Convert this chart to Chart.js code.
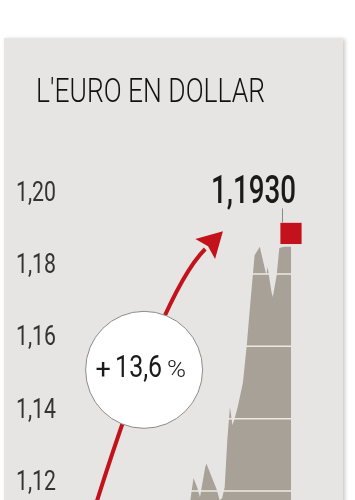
<!DOCTYPE html>
<html>
<head>
<meta charset="utf-8">
<script src="https://cdn.jsdelivr.net/npm/chart.js@4.4.0/dist/chart.umd.min.js"></script>
<style>
  html, body { margin: 0; padding: 0; width: 355px; height: 500px; overflow: hidden; background: #fff; }
  #panel { position: absolute; left: 4px; top: 38px; width: 339px; height: 480px; background: #e6e5e4; box-shadow: 2px 1px 4px rgba(0,0,0,0.22); }
  #myChart { position: absolute; left: 0; top: 0; }
</style>
</head>
<body>
<div id="panel"></div>
<canvas id="myChart" width="355" height="800"></canvas>
<script>
let title = "L'EURO EN DOLLAR";
let days = [0, 8, 16, 24, 32, 40, 48, 56, 64, 72, 80, 86, 92, 95, 98, 100, 104, 105, 109, 113, 115, 117, 119, 121, 123, 125, 127, 129, 133, 136, 138, 142, 146, 148, 151, 152, 155, 156, 159, 161, 165, 170];
let rates = [1.046, 1.062, 1.072, 1.062, 1.068, 1.058, 1.065, 1.078, 1.070, 1.084, 1.092, 1.105, 1.116, 1.1236, 1.1208, 1.1183, 1.1266, 1.1275, 1.1239, 1.1203, 1.1175, 1.1180, 1.1211, 1.1341, 1.1432, 1.1382, 1.1405, 1.1432, 1.1499, 1.1604, 1.1690, 1.1852, 1.1875, 1.1844, 1.1797, 1.1819, 1.1750, 1.1736, 1.1797, 1.1872, 1.1875, 1.1875];
let yTicks = [1.12, 1.14, 1.16, 1.18, 1.20];
let lastLabel = '1,1930';
let markerRate = 1.1912;
let changeLabel = '13,6';

// annotation anchors, in chart units (day, rate)
let arrowFrom = { x: 20, y: 1.1164 };
let arrowVia = { x: 71.5, y: 1.1753 };
let arrowTo = { x: 104, y: 1.1869 };
let bubble = { x: 57, y: 1.1535 };

const RED = '#c4121c';
const FONT = 'Roboto, "Noto Sans", sans-serif';

function squeezed(ctx, str, x, y, font, width, align) {
  ctx.save();
  ctx.font = font;
  let sx = width / ctx.measureText(str).width;
  ctx.translate(x, y);
  ctx.scale(sx, 1);
  ctx.textAlign = align || 'left';
  ctx.fillText(str, 0, 0);
  ctx.restore();
}

const decorations = {
  id: 'decorations',
  afterDatasetsDraw(chart) {
    let ctx = chart.ctx;
    let xs = chart.scales.x, ys = chart.scales.y;
    let area = chart.chartArea;

    // grid lines only show on top of the area
    ctx.save();
    ctx.globalCompositeOperation = 'source-atop';
    ctx.strokeStyle = '#eeeae2';
    ctx.lineWidth = 1.5;
    yTicks.forEach(v => {
      let y = ys.getPixelForValue(v);
      ctx.beginPath();
      ctx.moveTo(area.left, y);
      ctx.lineTo(area.right, y);
      ctx.stroke();
    });
    ctx.restore();

    // y labels
    ctx.save();
    ctx.fillStyle = '#333';
    ctx.font = '400 28px ' + FONT;
    let sx = 40 / ctx.measureText('1,20').width;
    yTicks.forEach(v => {
      let y = ys.getPixelForValue(v) - 1;
      ctx.save();
      ctx.translate(56, y);
      ctx.scale(sx, 1);
      ctx.textAlign = 'right';
      ctx.fillText(v.toFixed(2).replace('.', ','), 0, 0);
      ctx.restore();
    });
    ctx.restore();

    // title
    ctx.fillStyle = '#111';
    squeezed(ctx, title, 36, 102, '300 34px ' + FONT, 229);

    // arrow
    let p0 = { x: xs.getPixelForValue(arrowFrom.x), y: ys.getPixelForValue(arrowFrom.y) };
    let c = { x: xs.getPixelForValue(arrowVia.x), y: ys.getPixelForValue(arrowVia.y) };
    let p2 = { x: xs.getPixelForValue(arrowTo.x), y: ys.getPixelForValue(arrowTo.y) };
    ctx.save();
    ctx.strokeStyle = RED;
    ctx.fillStyle = RED;
    ctx.lineWidth = 4;
    ctx.beginPath();
    ctx.moveTo(p0.x, p0.y);
    ctx.quadraticCurveTo(c.x, c.y, p2.x, p2.y);
    ctx.stroke();
    let dx = p2.x - c.x, dy = p2.y - c.y, len = Math.hypot(dx, dy);
    dx /= len; dy /= len;
    let tip = { x: p2.x + dx * 25, y: p2.y + dy * 25 };
    ctx.beginPath();
    ctx.moveTo(tip.x, tip.y);
    ctx.lineTo(p2.x - dy * 14, p2.y + dx * 14);
    ctx.lineTo(p2.x + dx * 4, p2.y + dy * 4);
    ctx.lineTo(p2.x + dy * 14, p2.y - dx * 14);
    ctx.closePath();
    ctx.fill();
    ctx.restore();

    // bubble
    let bx = xs.getPixelForValue(bubble.x), by = ys.getPixelForValue(bubble.y);
    ctx.save();
    ctx.beginPath();
    ctx.arc(bx, by, 58.5, 0, Math.PI * 2);
    ctx.fillStyle = '#fff';
    ctx.fill();
    ctx.strokeStyle = '#8a8a8a';
    ctx.lineWidth = 1;
    ctx.stroke();
    ctx.fillStyle = '#1a1a1a';
    ctx.font = '400 27px ' + FONT;
    ctx.textAlign = 'center';
    ctx.fillText('+', bx - 41, by + 8);
    squeezed(ctx, changeLabel, bx - 29, by + 7, '400 31px ' + FONT, 47);
    squeezed(ctx, '%', bx + 23, by + 7, '300 23px ' + FONT, 19);
    ctx.restore();

    // last value label
    let last = chart.getDatasetMeta(1).data[0];
    ctx.fillStyle = '#1a1a1a';
    squeezed(ctx, lastLabel, last.x + 5, last.y - 30, '500 39px ' + FONT, 85, 'right');
    ctx.save();
    ctx.strokeStyle = '#888';
    ctx.lineWidth = 1;
    ctx.beginPath();
    ctx.moveTo(last.x - 8.5, last.y - 25);
    ctx.lineTo(last.x - 8.5, last.y - 11);
    ctx.stroke();
    ctx.restore();
  }
};

new Chart(document.getElementById('myChart'), {
  type: 'line',
  data: {
    datasets: [{
      data: days.map((d, i) => ({ x: d, y: rates[i] })),
      fill: 'start',
      backgroundColor: '#a7a197',
      borderWidth: 0,
      pointRadius: 0,
      tension: 0
    }, {
      data: [{ x: days[days.length - 1], y: markerRate }],
      showLine: false,
      pointStyle: 'rect',
      pointRadius: 15,
      pointBackgroundColor: RED,
      pointBorderWidth: 0,
      clip: false
    }]
  },
  options: {
    responsive: false,
    animation: false,
    events: [],
    layout: { padding: { left: 70, right: 64, top: 201.6, bottom: 19.6 } },
    plugins: { legend: { display: false }, tooltip: { enabled: false } },
    scales: {
      x: { type: 'linear', min: 0, max: 170, display: false },
      y: { min: 1.04, max: 1.20, display: false }
    }
  },
  plugins: [decorations]
});
</script>
</body>
</html>
